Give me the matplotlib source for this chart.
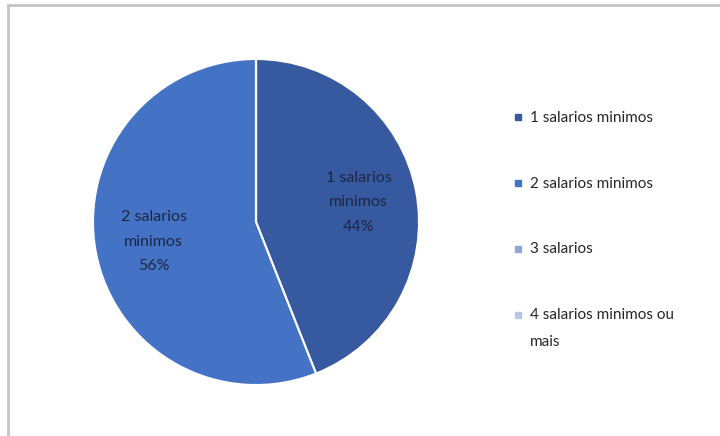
import matplotlib.pyplot as plt
from matplotlib.patches import Rectangle
from matplotlib.lines import Line2D

plt.rcParams['font.family'] = ['Lato', 'DejaVu Sans']

# Data
categories = ['1 salarios minimos', '2 salarios minimos', '3 salarios',
              '4 salarios minimos ou\nmais']
label_names = ['1 salarios\nminimos', '2 salarios\nminimos', '3 salarios',
               '4 salarios minimos ou mais']
values = [44, 56, 0, 0]
colors = ['#36599f', '#4472c4', '#8ea6d8', '#b6c6e6']

fig = plt.figure(figsize=(7.2, 4.36), dpi=100)

# Gray outer frame of the chart area
fig.patches.append(Rectangle((8 / 720, -0.02), 1.0, (436 - 5) / 436 + 0.02,
                             transform=fig.transFigure, fill=False,
                             edgecolor='#c4c4c4', linewidth=2))

ax = fig.add_axes([93 / 720, 51 / 436, 326 / 720, 326 / 436])

pie_labels = [f'{n}\n{v}%' if v > 0 else '' for n, v in zip(label_names, values)]
wedges, texts = ax.pie(values, labels=pie_labels, colors=colors, startangle=90,
                       counterclock=False, labeldistance=0.64,
                       wedgeprops=dict(edgecolor='white', linewidth=1.5),
                       textprops=dict(fontsize=11.5, color='#1c2845',
                                      linespacing=1.95))
for t in texts:
    t.set_horizontalalignment('center')
    t.set_verticalalignment('center')
ax.set_xlim(-1, 1)
ax.set_ylim(-1, 1)
ax.set_aspect('equal')

# square markers for the legend, aligned with the first line of each entry
handles = [Line2D([], [], linestyle='none', marker='s', markersize=5,
                  markerfacecolor=c, markeredgecolor=c) for c in colors]
leg = fig.legend(handles, categories, loc='upper left',
                 bbox_to_anchor=(500 / 720, 1 - 97 / 436), frameon=False,
                 fontsize=11, handlelength=0.55, handleheight=1.1,
                 handletextpad=0.5, labelspacing=3.35, labelcolor='#262626')
for t in leg.get_texts():
    t.set_linespacing(2.15)
for col in leg._legend_handle_box.get_children():
    for row in col.get_children():
        row.align = 'top'

fig.savefig('out.png', dpi=100)
